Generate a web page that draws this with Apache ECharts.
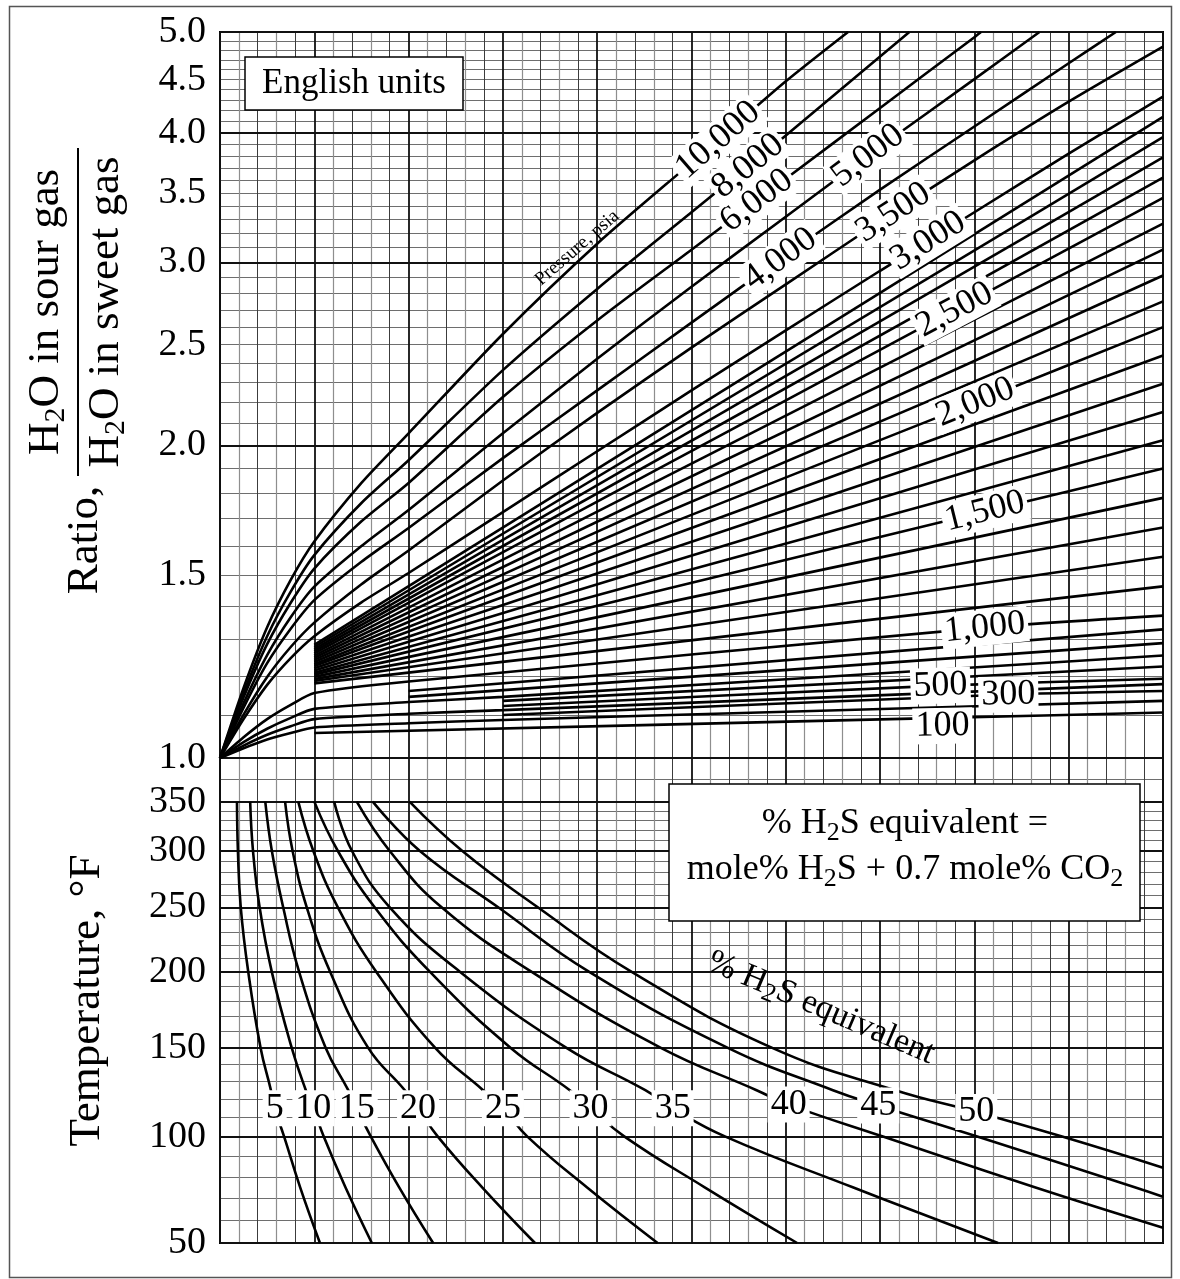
<!DOCTYPE html>
<html>
<head>
<meta charset="utf-8">
<title>Water content ratio of sour gas to sweet gas</title>
<script src="https://cdn.jsdelivr.net/npm/echarts@6/dist/echarts.min.js"></script>
<style>
  html, body { margin: 0; padding: 0; background: #fff; }
  #chart { width: 1180px; height: 1279px; }
</style>
</head>
<body>
<div id="chart"></div>
<script>
// ---------------------------------------------------------------------------
// Data
// Upper panel: one curve per pressure (psia); points are
// [construction abscissa (0-10), ratio H2O(sour)/H2O(sweet)].
// ---------------------------------------------------------------------------
const pressures = [100, 200, 300, 400, 500, 600, 700, 800, 900, 1000,
  1100, 1200, 1300, 1400, 1500, 1600, 1700, 1800, 1900, 2000,
  2100, 2200, 2300, 2400, 2500, 2600, 2700, 2800, 2900, 3000,
  3500, 4000, 5000, 6000, 8000, 10000];

const ratioCurves = [
  [[1, 1.057], [7.66, 1.093], [10, 1.106]],
  [[0, 1], [0.25, 1.022], [0.5, 1.042], [0.75, 1.057], [1, 1.07], [2, 1.08], [3, 1.088], [6, 1.108], [10, 1.135]],
  [[3, 1.1], [8.36, 1.151], [10, 1.16]],
  [[0, 1], [0.25, 1.028], [0.5, 1.053], [0.75, 1.073], [1, 1.09], [2, 1.103], [3, 1.112], [10, 1.178]],
  [[3, 1.122], [7.64, 1.174], [10, 1.192]],
  [[3, 1.135], [10, 1.225]],
  [[0, 1], [0.25, 1.036], [0.5, 1.067], [0.75, 1.093], [1, 1.115], [2, 1.132], [3, 1.145], [10, 1.255]],
  [[2, 1.145], [10, 1.29]],
  [[2, 1.16], [10, 1.33]],
  [[0, 1], [0.25, 1.047], [0.5, 1.09], [0.75, 1.125], [1, 1.155], [2, 1.185], [8.11, 1.335], [10, 1.371]],
  [[1, 1.18], [10, 1.463]],
  [[1, 1.186], [10, 1.562]],
  [[1, 1.191], [10, 1.667]],
  [[1, 1.197], [10, 1.78]],
  [[1, 1.203], [8.11, 1.727], [10, 1.9]],
  [[1, 1.208], [10, 2.023]],
  [[1, 1.214], [10, 2.153]],
  [[1, 1.22], [10, 2.293]],
  [[1, 1.226], [10, 2.441]],
  [[1, 1.231], [8.01, 2.2], [10, 2.599]],
  [[1, 1.237], [10, 2.752]],
  [[1, 1.243], [10, 2.914]],
  [[1, 1.249], [10, 3.086]],
  [[1, 1.255], [10, 3.269]],
  [[1, 1.261], [7.79, 2.7], [10, 3.461]],
  [[1, 1.267], [10, 3.621]],
  [[1, 1.273], [10, 3.786]],
  [[1, 1.279], [10, 3.96]],
  [[1, 1.285], [10, 4.142]],
  [[0, 1], [0.25, 1.09], [0.5, 1.176], [0.75, 1.248], [1, 1.31], [1.5, 1.412], [2, 1.507], [3, 1.725], [4, 1.974], [5, 2.259], [6, 2.581], [7, 2.945], [7.51, 3.146], [8, 3.353], [9, 3.819], [10, 4.332]],
  [[0, 1], [0.25, 1.101], [0.5, 1.197], [0.75, 1.279], [1, 1.35], [1.5, 1.47], [2, 1.584], [3, 1.85], [4, 2.149], [5, 2.484], [6, 2.858], [7, 3.287], [7.14, 3.35], [8, 3.762], [9, 4.284], [10, 4.84]],
  [[0, 1], [0.25, 1.118], [0.5, 1.234], [0.75, 1.332], [1, 1.419], [1.5, 1.545], [2, 1.665], [3, 1.944], [4, 2.259], [5, 2.625], [5.94, 3.022], [6, 3.05], [7, 3.525], [8, 4.055], [9, 4.665], [9.5, 5]],
  [[0, 1], [0.25, 1.129], [0.5, 1.256], [0.75, 1.366], [1, 1.462], [1.5, 1.6], [2, 1.733], [3, 2.054], [4, 2.423], [5, 2.843], [6, 3.32], [6.87, 3.8], [7, 3.877], [8, 4.504], [8.69, 5]],
  [[0, 1], [0.25, 1.144], [0.5, 1.287], [0.75, 1.411], [1, 1.522], [1.5, 1.69], [2, 1.84], [3, 2.226], [4, 2.638], [5, 3.086], [5.69, 3.439], [6, 3.611], [7, 4.225], [8, 4.943], [8.07, 5]],
  [[0, 1], [0.25, 1.155], [0.5, 1.31], [0.75, 1.446], [1, 1.568], [1.5, 1.76], [2, 1.935], [3, 2.363], [4, 2.829], [5, 3.353], [5.6, 3.714], [6, 3.975], [7, 4.735], [7.31, 5]],
  [[0, 1], [0.25, 1.168], [0.5, 1.336], [0.75, 1.484], [1, 1.616], [1.5, 1.84], [2, 2.054], [3, 2.56], [4, 3.127], [5, 3.743], [5.28, 3.935], [6, 4.482], [6.66, 5]]
];

// index of the point on a pressure curve where its label is written
const pressureLabelAt = { 100: 1, 300: 1, 500: 1, 1000: 6, 1500: 1, 2000: 1, 2500: 1,
  3000: 12, 3500: 12, 4000: 10, 5000: 11, 6000: 10, 8000: 10, 10000: 10 };
// point of the 10,000 psia curve that carries the "Pressure, psia" caption
const pressureCaptionAt = 8;

// Lower panel: one curve per % H2S equivalent; points are [construction abscissa, temperature °F].
const h2sPercents = [5, 10, 15, 20, 25, 30, 35, 40, 45, 50];
const tempCurves = [
  [[0.18, 350], [0.19, 300], [0.22, 250], [0.30, 200], [0.43, 150], [0.54, 125], [0.58, 115], [0.68, 100], [0.85, 75], [1.06, 50]],
  [[0.32, 350], [0.35, 300], [0.42, 250], [0.55, 200], [0.76, 150], [0.91, 125], [0.99, 115], [1.10, 100], [1.33, 75], [1.61, 50]],
  [[0.48, 350], [0.55, 300], [0.67, 250], [0.84, 200], [1.12, 150], [1.36, 125], [1.45, 115], [1.60, 100], [1.90, 75], [2.26, 50]],
  [[0.69, 350], [0.77, 300], [0.92, 250], [1.17, 200], [1.57, 150], [1.96, 125], [2.10, 115], [2.31, 100], [2.78, 75], [3.34, 50]],
  [[0.83, 350], [0.99, 300], [1.25, 250], [1.66, 200], [2.28, 150], [2.79, 125], [3.00, 115], [3.26, 100], [3.89, 75], [4.64, 50]],
  [[1.00, 350], [1.25, 300], [1.64, 250], [2.23, 200], [3.08, 150], [3.71, 125], [3.93, 115], [4.29, 100], [5.14, 75], [6.12, 50]],
  [[1.21, 350], [1.40, 300], [1.80, 250], [2.55, 200], [3.67, 150], [4.51, 125], [4.80, 115], [5.36, 100], [6.71, 75], [8.25, 50]],
  [[1.45, 350], [1.80, 300], [2.35, 250], [3.31, 200], [4.67, 150], [5.69, 125], [6.03, 117], [7.03, 100], [8.64, 75], [10, 56.6]],
  [[1.62, 350], [2.12, 300], [2.95, 250], [3.92, 200], [5.38, 150], [6.50, 125], [6.98, 116.5], [8.03, 100], [9.70, 75], [10, 70.6]],
  [[2.01, 350], [2.57, 300], [3.37, 250], [4.37, 200], [5.85, 150], [7.16, 125], [8.02, 113], [8.93, 100], [10, 84.4]]
];
// index of the point on each % H2S curve where its label is written
const h2sLabelAt = 6;

// Axis tick labels
const ratioTicks = [1.0, 1.5, 2.0, 2.5, 3.0, 3.5, 4.0, 4.5, 5.0];
const ratioMajor = [1, 2, 3, 4, 5];
const tempTicks = [50, 100, 150, 200, 250, 300, 350];
const tempMajor = [50, 100, 150, 200, 250, 300, 350, 400];

// ---------------------------------------------------------------------------
// Scales: ratio is drawn on ln(ratio); temperature on -1000/(T + 460), i.e. 1/°R
// ---------------------------------------------------------------------------
const ln = Math.log;
const uT = t => -1000 / (t + 460);
const tFromU = u => -1000 / u - 460;

const SERIF = '"Liberation Serif", "Times New Roman", "DejaVu Serif", serif';
const BLACK = '#000';

// fine grid positions
const minorDark = [], minorLight = [];
for (let i = 0; i < 10; i++) { minorLight.push(i + 0.2, i + 0.6); minorDark.push(i + 0.4, i + 0.8); }
const ratioMinor = [];
for (let k = 11; k < 50; k++) if (k % 10) ratioMinor.push(ln(k / 10));
const tempMinor = [];
for (let t = 60; t < 350; t += 10) if (t % 50) tempMinor.push(uT(t));
tempMinor.push(uT(375));

function xAxes(gridIndex) {
  const base = { gridIndex, type: 'value', min: 0, max: 10,
    axisLine: { show: false }, axisLabel: { show: false } };
  return [
    Object.assign({}, base, { interval: 1, axisTick: { show: false }, z: 1,
      splitLine: { show: true, lineStyle: { color: '#111', width: 1.8 } } }),
    Object.assign({}, base, { axisTick: { show: false, customValues: minorDark },
      splitLine: { show: true, lineStyle: { color: '#3c3c3c', width: 1 } } }),
    Object.assign({}, base, { axisTick: { show: false, customValues: minorLight },
      splitLine: { show: true, lineStyle: { color: '#8e8e8e', width: 1.2 } } })
  ];
}

const tickLabel = { show: true, color: BLACK, fontFamily: SERIF, fontSize: 38, margin: 14 };

const yAxes = [
  // upper panel: ratio labels + heavy lines
  { gridIndex: 0, type: 'value', min: 0, max: ln(5), z: 1,
    axisLine: { show: false },
    axisTick: { show: false, customValues: ratioMajor.map(ln) },
    axisLabel: Object.assign({}, tickLabel, { customValues: ratioTicks.map(ln),
      formatter: v => Math.exp(v).toFixed(1) }),
    splitLine: { show: true, lineStyle: { color: '#111', width: 2 } } },
  // upper panel: 0.1 ratio lines
  { gridIndex: 0, type: 'value', min: 0, max: ln(5),
    axisLine: { show: false }, axisLabel: { show: false },
    axisTick: { show: false, customValues: ratioMinor },
    splitLine: { show: true, lineStyle: { color: '#6e6e6e', width: 1.2 } } },
  // lower panel: temperature labels + heavy lines
  { gridIndex: 1, type: 'value', min: uT(50), max: uT(400), z: 1,
    axisLine: { show: false },
    axisTick: { show: false, customValues: tempMajor.map(uT) },
    axisLabel: Object.assign({}, tickLabel, { customValues: tempTicks.map(uT),
      formatter: v => String(Math.round(tFromU(v))) }),
    splitLine: { show: true, lineStyle: { color: '#111', width: 2 } },
    name: 'Temperature, °F', nameLocation: 'middle', nameRotate: 90, nameGap: 110,
    nameTextStyle: { color: BLACK, fontFamily: SERIF, fontSize: 45 } },
  // lower panel: 10 °F lines
  { gridIndex: 1, type: 'value', min: uT(50), max: uT(400),
    axisLine: { show: false }, axisLabel: { show: false },
    axisTick: { show: false, customValues: tempMinor },
    splitLine: { show: true, lineStyle: { color: '#6e6e6e', width: 1.2 } } }
];

const curveCommon = { type: 'line', showSymbol: false, symbol: 'none', smooth: 0.25,
  silent: true, z: 3, clip: true,
  lineStyle: { color: BLACK, width: 2.6 } };

const series = [];
ratioCurves.forEach((pts, i) => {
  series.push(Object.assign({}, curveCommon, {
    name: pressures[i] + ' psia', xAxisIndex: 0, yAxisIndex: 0,
    data: pts.map(([x, r]) => [x, ln(r)])
  }));
});
tempCurves.forEach((pts, i) => {
  series.push(Object.assign({}, curveCommon, {
    name: h2sPercents[i] + '% H2S equivalent', xAxisIndex: 3, yAxisIndex: 2, smooth: 0.45,
    data: pts.map(([x, t]) => [x, uT(t)])
  }));
});

// label styling per pressure curve
const pressureLabelRotate = { 100: 1, 300: 1, 500: 2, 1000: 6, 1500: 14, 2000: 22, 2500: 28,
  3000: 32, 3500: 33, 4000: 36, 5000: 37, 6000: 37, 8000: 39, 10000: 41 };
const pressureLabelOffset = { 100: [0, 8] };
const withCommas = n => String(n).replace(/\B(?=(\d{3})+(?!\d))/g, ',');

const pressureLabelData = pressures.filter(p => p in pressureLabelAt).map(p => {
  const [x, r] = ratioCurves[pressures.indexOf(p)][pressureLabelAt[p]];
  return { value: [x, ln(r)], label: { formatter: withCommas(p),
    rotate: pressureLabelRotate[p], offset: pressureLabelOffset[p] || [0, 0] } };
});
{
  const [x, r] = ratioCurves[pressures.indexOf(10000)][pressureCaptionAt];
  pressureLabelData.push({ value: [x, ln(r)], label: { formatter: 'Pressure, psia',
    rotate: 41, fontSize: 19, backgroundColor: 'transparent', padding: 0, offset: [-18, -10] } });
}

const labelCommon = { type: 'scatter', symbol: 'circle', symbolSize: 1, silent: true, z: 6,
  itemStyle: { color: 'transparent', opacity: 1 },
  emphasis: { disabled: true },
  label: { show: true, position: 'inside', color: BLACK, opacity: 1, fontFamily: SERIF, fontSize: 36,
    backgroundColor: '#fff', padding: [0, 3] } };

series.push(Object.assign({}, labelCommon, { name: 'pressure labels', xAxisIndex: 0, yAxisIndex: 0,
  data: pressureLabelData }));

series.push(Object.assign({}, labelCommon, { name: 'H2S labels', xAxisIndex: 3, yAxisIndex: 2,
  data: tempCurves.map((pts, i) => {
    const [x, t] = pts[h2sLabelAt];
    return { value: [x, uT(t)], label: { formatter: String(h2sPercents[i]) } };
  }) }));

// ---------------------------------------------------------------------------
// Annotations
// ---------------------------------------------------------------------------
const subStyle = { fontFamily: SERIF, fontSize: 26, verticalAlign: 'bottom', lineHeight: 16 };
const subStyleBig = { fontFamily: SERIF, fontSize: 30, verticalAlign: 'bottom', lineHeight: 18 };

const graphic = [
  { type: 'rect', silent: true, z: 20, shape: { x: 9.5, y: 6.5, width: 1162, height: 1271 },
    style: { fill: 'none', stroke: '#555', lineWidth: 1.5 } },
  // English units box
  { type: 'rect', silent: true, z: 10, shape: { x: 245, y: 57, width: 218, height: 53 },
    style: { fill: '#fff', stroke: BLACK, lineWidth: 1.5 } },
  { type: 'text', silent: true, z: 11, x: 354, y: 84,
    style: { text: 'English units', fontFamily: SERIF, fontSize: 35, fill: BLACK,
      align: 'center', verticalAlign: 'middle' } },
  // definition box
  { type: 'rect', silent: true, z: 10, shape: { x: 669, y: 784, width: 471, height: 137 },
    style: { fill: '#fff', stroke: BLACK, lineWidth: 1.5 } },
  { type: 'text', silent: true, z: 11, x: 905, y: 824,
    style: { text: '% H{s|2}S equivalent =', fontFamily: SERIF, fontSize: 36, lineHeight: 44,
      fill: BLACK, align: 'center', verticalAlign: 'middle', rich: { s: subStyle } } },
  { type: 'text', silent: true, z: 11, x: 905, y: 870,
    style: { text: 'mole% H{s|2}S + 0.7 mole% CO{s|2}', fontFamily: SERIF, fontSize: 36, lineHeight: 44,
      fill: BLACK, align: 'center', verticalAlign: 'middle', rich: { s: subStyle } } },
  // curve family caption in the lower panel
  { type: 'text', silent: true, z: 11, x: 821, y: 1008, rotation: -23 * Math.PI / 180,
    style: { text: '% H{s|2}S equivalent', fontFamily: SERIF, fontSize: 34, lineHeight: 42,
      fill: BLACK, align: 'center', verticalAlign: 'middle', rich: { s: subStyle } } },
  // ratio axis title
  { type: 'text', silent: true, z: 11, x: 85, y: 540, rotation: Math.PI / 2,
    style: { text: 'Ratio,', fontFamily: SERIF, fontSize: 45, fill: BLACK,
      align: 'center', verticalAlign: 'middle' } },
  { type: 'text', silent: true, z: 11, x: 46, y: 312, rotation: Math.PI / 2,
    style: { text: 'H{s|2}O in sour gas', fontFamily: SERIF, fontSize: 45, lineHeight: 50,
      fill: BLACK, align: 'center', verticalAlign: 'middle', rich: { s: subStyleBig } } },
  { type: 'line', silent: true, z: 11, shape: { x1: 78, y1: 148, x2: 78, y2: 476 },
    style: { stroke: BLACK, lineWidth: 2 } },
  { type: 'text', silent: true, z: 11, x: 106, y: 312, rotation: Math.PI / 2,
    style: { text: 'H{s|2}O in sweet gas', fontFamily: SERIF, fontSize: 45, lineHeight: 50,
      fill: BLACK, align: 'center', verticalAlign: 'middle', rich: { s: subStyleBig } } }
];

const option = {
  animation: false,
  backgroundColor: '#fff',
  grid: [
    { left: 220, top: 32, width: 943, height: 726, show: true, borderColor: BLACK, borderWidth: 2,
      backgroundColor: 'transparent' },
    { left: 220, top: 758, width: 943, height: 485, show: true, borderColor: BLACK, borderWidth: 2,
      backgroundColor: 'transparent' }
  ],
  xAxis: xAxes(0).concat(xAxes(1)),
  yAxis: yAxes,
  series: series,
  graphic: graphic
};

const chart = echarts.init(document.getElementById('chart'), null, { renderer: 'canvas' });
chart.setOption(option);
</script>
</body>
</html>
